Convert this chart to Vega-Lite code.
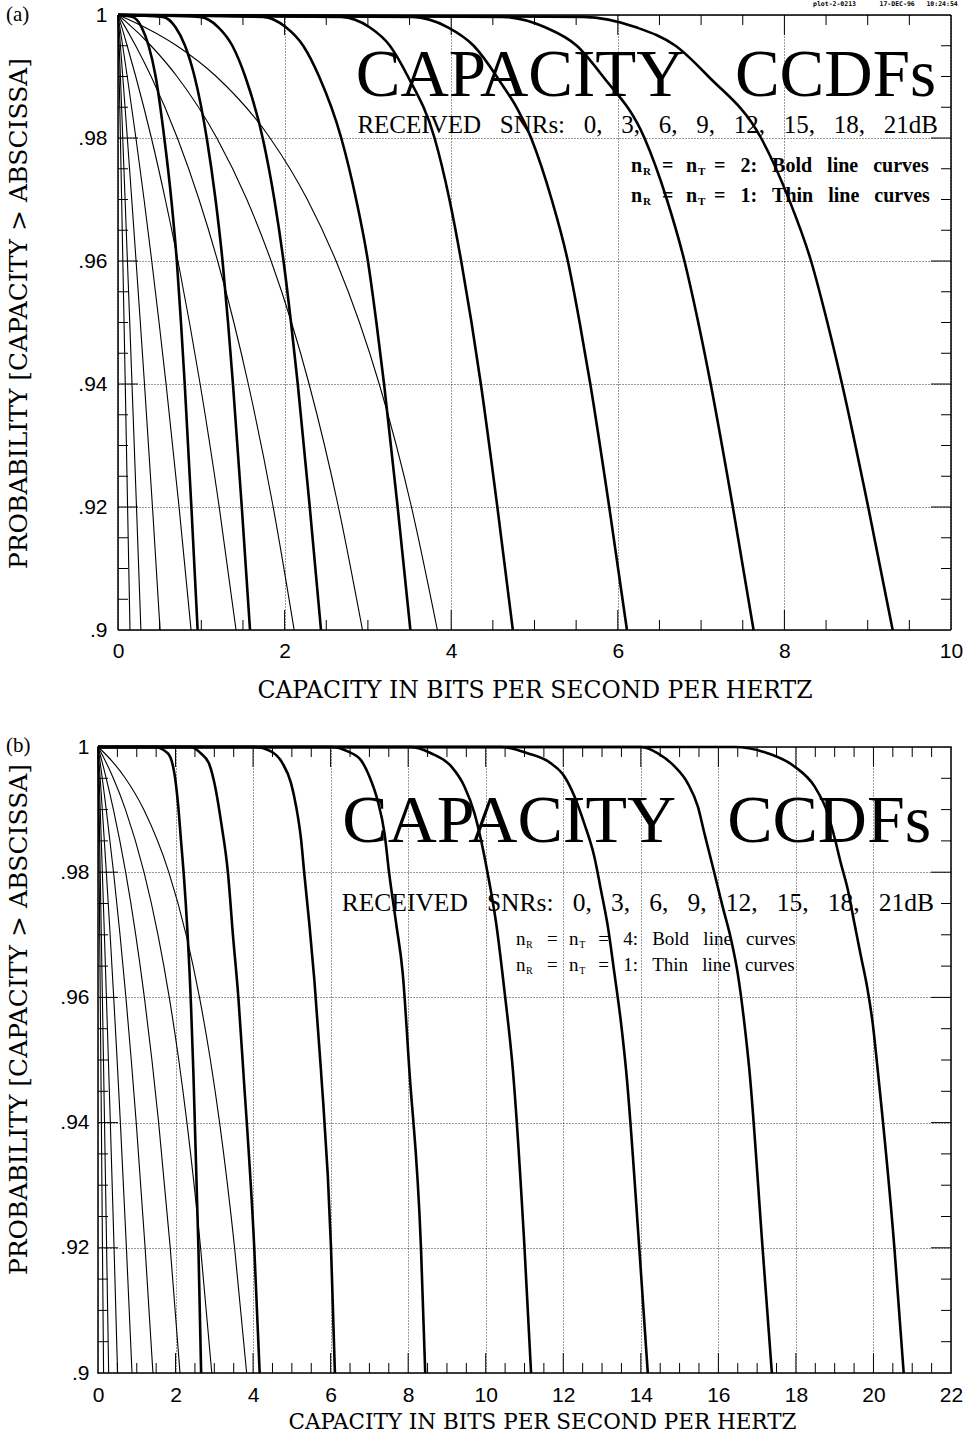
{
  "$schema": "https://vega.github.io/schema/vega-lite/v6.json",
  "background": "white",
  "padding": {"left": 5, "top": 1, "right": 0, "bottom": 0},
  "config": {
    "view": {"stroke": "black", "strokeWidth": 1.5},
    "axis": {
      "domain": false, "ticks": false, "tickSize": 0,
      "labelFont": "Liberation Sans", "labelFontSize": 21, "labelColor": "black",
      "labelFlush": false, "labelOverlap": false,
      "titleFont": "DejaVu Serif", "titleFontSize": 23.5, "titleFontWeight": "normal", "titleColor": "black",
      "gridColor": "#222", "gridDash": [1, 2], "gridWidth": 1, "gridOpacity": 0.9
    },
    "text": {"color": "black"}
  },
  "datasets": {
    "thin": [
      {"curve":"t0","c":0,"p":1},{"curve":"t0","c":0.014,"p":0.99},{"curve":"t0","c":0.029,"p":0.98},{"curve":"t0","c":0.058,"p":0.96},{"curve":"t0","c":0.087,"p":0.94},{"curve":"t0","c":0.115,"p":0.92},{"curve":"t0","c":0.144,"p":0.9},
      {"curve":"t3","c":0,"p":1},{"curve":"t3","c":0.003,"p":0.999},{"curve":"t3","c":0.014,"p":0.995},{"curve":"t3","c":0.029,"p":0.99},{"curve":"t3","c":0.057,"p":0.98},{"curve":"t3","c":0.085,"p":0.97},{"curve":"t3","c":0.113,"p":0.96},{"curve":"t3","c":0.141,"p":0.95},{"curve":"t3","c":0.168,"p":0.94},{"curve":"t3","c":0.222,"p":0.92},{"curve":"t3","c":0.275,"p":0.9},
      {"curve":"t6","c":0,"p":1},{"curve":"t6","c":0.006,"p":0.999},{"curve":"t6","c":0.029,"p":0.995},{"curve":"t6","c":0.057,"p":0.99},{"curve":"t6","c":0.112,"p":0.98},{"curve":"t6","c":0.165,"p":0.97},{"curve":"t6","c":0.217,"p":0.96},{"curve":"t6","c":0.268,"p":0.95},{"curve":"t6","c":0.318,"p":0.94},{"curve":"t6","c":0.414,"p":0.92},{"curve":"t6","c":0.505,"p":0.9},
      {"curve":"t9","c":0,"p":1},{"curve":"t9","c":0.011,"p":0.999},{"curve":"t9","c":0.056,"p":0.995},{"curve":"t9","c":0.111,"p":0.99},{"curve":"t9","c":0.215,"p":0.98},{"curve":"t9","c":0.313,"p":0.97},{"curve":"t9","c":0.405,"p":0.96},{"curve":"t9","c":0.493,"p":0.95},{"curve":"t9","c":0.577,"p":0.94},{"curve":"t9","c":0.733,"p":0.92},{"curve":"t9","c":0.877,"p":0.9},
      {"curve":"t12","c":0,"p":1},{"curve":"t12","c":0.023,"p":0.999},{"curve":"t12","c":0.11,"p":0.995},{"curve":"t12","c":0.213,"p":0.99},{"curve":"t12","c":0.401,"p":0.98},{"curve":"t12","c":0.568,"p":0.97},{"curve":"t12","c":0.72,"p":0.96},{"curve":"t12","c":0.858,"p":0.95},{"curve":"t12","c":0.986,"p":0.94},{"curve":"t12","c":1.215,"p":0.92},{"curve":"t12","c":1.417,"p":0.9},
      {"curve":"t15","c":0,"p":1},{"curve":"t15","c":0.045,"p":0.999},{"curve":"t15","c":0.212,"p":0.995},{"curve":"t15","c":0.398,"p":0.99},{"curve":"t15","c":0.713,"p":0.98},{"curve":"t15","c":0.973,"p":0.97},{"curve":"t15","c":1.196,"p":0.96},{"curve":"t15","c":1.391,"p":0.95},{"curve":"t15","c":1.564,"p":0.94},{"curve":"t15","c":1.863,"p":0.92},{"curve":"t15","c":2.115,"p":0.9},
      {"curve":"t18","c":0,"p":1},{"curve":"t18","c":0.088,"p":0.999},{"curve":"t18","c":0.396,"p":0.995},{"curve":"t18","c":0.709,"p":0.99},{"curve":"t18","c":1.186,"p":0.98},{"curve":"t18","c":1.547,"p":0.97},{"curve":"t18","c":1.838,"p":0.96},{"curve":"t18","c":2.083,"p":0.95},{"curve":"t18","c":2.294,"p":0.94},{"curve":"t18","c":2.646,"p":0.92},{"curve":"t18","c":2.935,"p":0.9},
      {"curve":"t21","c":0,"p":1},{"curve":"t21","c":0.171,"p":0.999},{"curve":"t21","c":0.706,"p":0.995},{"curve":"t21","c":1.18,"p":0.99},{"curve":"t21","c":1.825,"p":0.98},{"curve":"t21","c":2.273,"p":0.97},{"curve":"t21","c":2.618,"p":0.96},{"curve":"t21","c":2.899,"p":0.95},{"curve":"t21","c":3.136,"p":0.94},{"curve":"t21","c":3.523,"p":0.92},{"curve":"t21","c":3.834,"p":0.9}
    ],
    "boldA": [
      {"curve":"a0","c":0,"p":1},{"curve":"a0","c":0.168,"p":0.9997},{"curve":"a0","c":0.284,"p":0.998},{"curve":"a0","c":0.368,"p":0.995},{"curve":"a0","c":0.452,"p":0.99},{"curve":"a0","c":0.556,"p":0.98},{"curve":"a0","c":0.64,"p":0.97},{"curve":"a0","c":0.706,"p":0.96},{"curve":"a0","c":0.756,"p":0.95},{"curve":"a0","c":0.801,"p":0.94},{"curve":"a0","c":0.881,"p":0.92},{"curve":"a0","c":0.956,"p":0.9},
      {"curve":"a3","c":0,"p":1},{"curve":"a3","c":0.535,"p":0.9997},{"curve":"a3","c":0.691,"p":0.998},{"curve":"a3","c":0.805,"p":0.995},{"curve":"a3","c":0.919,"p":0.99},{"curve":"a3","c":1.065,"p":0.98},{"curve":"a3","c":1.171,"p":0.97},{"curve":"a3","c":1.255,"p":0.96},{"curve":"a3","c":1.321,"p":0.95},{"curve":"a3","c":1.38,"p":0.94},{"curve":"a3","c":1.486,"p":0.92},{"curve":"a3","c":1.585,"p":0.9},
      {"curve":"a6","c":0,"p":1},{"curve":"a6","c":0.981,"p":0.9997},{"curve":"a6","c":1.205,"p":0.998},{"curve":"a6","c":1.373,"p":0.995},{"curve":"a6","c":1.527,"p":0.99},{"curve":"a6","c":1.737,"p":0.98},{"curve":"a6","c":1.877,"p":0.97},{"curve":"a6","c":1.987,"p":0.96},{"curve":"a6","c":2.077,"p":0.95},{"curve":"a6","c":2.158,"p":0.94},{"curve":"a6","c":2.302,"p":0.92},{"curve":"a6","c":2.437,"p":0.9},
      {"curve":"a9","c":0,"p":1},{"curve":"a9","c":1.742,"p":0.9997},{"curve":"a9","c":2.016,"p":0.998},{"curve":"a9","c":2.223,"p":0.995},{"curve":"a9","c":2.414,"p":0.99},{"curve":"a9","c":2.68,"p":0.98},{"curve":"a9","c":2.859,"p":0.97},{"curve":"a9","c":3.0,"p":0.96},{"curve":"a9","c":3.102,"p":0.95},{"curve":"a9","c":3.194,"p":0.94},{"curve":"a9","c":3.357,"p":0.92},{"curve":"a9","c":3.51,"p":0.9},
      {"curve":"a12","c":0,"p":1},{"curve":"a12","c":2.681,"p":0.9997},{"curve":"a12","c":3.02,"p":0.998},{"curve":"a12","c":3.264,"p":0.995},{"curve":"a12","c":3.48,"p":0.99},{"curve":"a12","c":3.8,"p":0.98},{"curve":"a12","c":3.979,"p":0.97},{"curve":"a12","c":4.12,"p":0.96},{"curve":"a12","c":4.244,"p":0.95},{"curve":"a12","c":4.356,"p":0.94},{"curve":"a12","c":4.554,"p":0.92},{"curve":"a12","c":4.74,"p":0.9},
      {"curve":"a15","c":0,"p":1},{"curve":"a15","c":3.534,"p":0.9997},{"curve":"a15","c":3.96,"p":0.998},{"curve":"a15","c":4.27,"p":0.995},{"curve":"a15","c":4.546,"p":0.99},{"curve":"a15","c":4.96,"p":0.98},{"curve":"a15","c":5.206,"p":0.97},{"curve":"a15","c":5.4,"p":0.96},{"curve":"a15","c":5.542,"p":0.95},{"curve":"a15","c":5.67,"p":0.94},{"curve":"a15","c":5.897,"p":0.92},{"curve":"a15","c":6.11,"p":0.9},
      {"curve":"a18","c":0,"p":1},{"curve":"a18","c":4.617,"p":0.9997},{"curve":"a18","c":5.128,"p":0.998},{"curve":"a18","c":5.508,"p":0.995},{"curve":"a18","c":5.822,"p":0.99},{"curve":"a18","c":6.32,"p":0.98},{"curve":"a18","c":6.589,"p":0.97},{"curve":"a18","c":6.8,"p":0.96},{"curve":"a18","c":6.966,"p":0.95},{"curve":"a18","c":7.115,"p":0.94},{"curve":"a18","c":7.381,"p":0.92},{"curve":"a18","c":7.63,"p":0.9},
      {"curve":"a21","c":0,"p":1},{"curve":"a21","c":5.587,"p":0.9997},{"curve":"a21","c":6.219,"p":0.998},{"curve":"a21","c":6.693,"p":0.995},{"curve":"a21","c":7.088,"p":0.99},{"curve":"a21","c":7.72,"p":0.98},{"curve":"a21","c":8.056,"p":0.97},{"curve":"a21","c":8.32,"p":0.96},{"curve":"a21","c":8.516,"p":0.95},{"curve":"a21","c":8.692,"p":0.94},{"curve":"a21","c":9.006,"p":0.92},{"curve":"a21","c":9.3,"p":0.9}
    ],
    "boldB": [
      {"curve":"b0","c":0,"p":1},{"curve":"b0","c":1.45,"p":1},{"curve":"b0","c":1.8,"p":0.999},{"curve":"b0","c":1.97,"p":0.9958},{"curve":"b0","c":2.07,"p":0.9905},{"curve":"b0","c":2.14,"p":0.9851},{"curve":"b0","c":2.21,"p":0.9798},{"curve":"b0","c":2.31,"p":0.9702},{"curve":"b0","c":2.4,"p":0.9585},{"curve":"b0","c":2.46,"p":0.948},{"curve":"b0","c":2.59,"p":0.92},{"curve":"b0","c":2.66,"p":0.9},
      {"curve":"b3","c":0,"p":1},{"curve":"b3","c":2.4,"p":1},{"curve":"b3","c":2.65,"p":0.999},{"curve":"b3","c":2.86,"p":0.9974},{"curve":"b3","c":3.04,"p":0.9931},{"curve":"b3","c":3.18,"p":0.9878},{"curve":"b3","c":3.35,"p":0.98},{"curve":"b3","c":3.48,"p":0.97},{"curve":"b3","c":3.62,"p":0.96},{"curve":"b3","c":3.75,"p":0.948},{"curve":"b3","c":4.03,"p":0.92},{"curve":"b3","c":4.17,"p":0.9},
      {"curve":"b6","c":0,"p":1},{"curve":"b6","c":4.03,"p":1},{"curve":"b6","c":4.46,"p":0.9993},{"curve":"b6","c":4.76,"p":0.9974},{"curve":"b6","c":4.98,"p":0.9942},{"curve":"b6","c":5.11,"p":0.9905},{"curve":"b6","c":5.24,"p":0.9851},{"curve":"b6","c":5.32,"p":0.9798},{"curve":"b6","c":5.45,"p":0.9718},{"curve":"b6","c":5.58,"p":0.9628},{"curve":"b6","c":5.75,"p":0.9484},{"curve":"b6","c":6.01,"p":0.92},{"curve":"b6","c":6.11,"p":0.9},
      {"curve":"b9","c":0,"p":1},{"curve":"b9","c":6.01,"p":1},{"curve":"b9","c":6.44,"p":0.9993},{"curve":"b9","c":6.78,"p":0.9979},{"curve":"b9","c":7.0,"p":0.9953},{"curve":"b9","c":7.21,"p":0.9915},{"curve":"b9","c":7.39,"p":0.9862},{"curve":"b9","c":7.51,"p":0.9798},{"curve":"b9","c":7.69,"p":0.9718},{"curve":"b9","c":7.86,"p":0.9638},{"curve":"b9","c":8.03,"p":0.9484},{"curve":"b9","c":8.33,"p":0.92},{"curve":"b9","c":8.44,"p":0.9},
      {"curve":"b12","c":0,"p":1},{"curve":"b12","c":8.07,"p":1},{"curve":"b12","c":8.59,"p":0.999},{"curve":"b12","c":9.11,"p":0.9969},{"curve":"b12","c":9.45,"p":0.9937},{"curve":"b12","c":9.71,"p":0.9894},{"curve":"b12","c":9.88,"p":0.9851},{"curve":"b12","c":10.05,"p":0.9798},{"curve":"b12","c":10.27,"p":0.9718},{"curve":"b12","c":10.48,"p":0.9612},{"curve":"b12","c":10.7,"p":0.9484},{"curve":"b12","c":11.0,"p":0.92},{"curve":"b12","c":11.17,"p":0.9},
      {"curve":"b15","c":0,"p":1},{"curve":"b15","c":10.4,"p":1},{"curve":"b15","c":11.08,"p":0.999},{"curve":"b15","c":11.68,"p":0.9974},{"curve":"b15","c":12.03,"p":0.9953},{"curve":"b15","c":12.29,"p":0.9921},{"curve":"b15","c":12.54,"p":0.9878},{"curve":"b15","c":12.8,"p":0.9825},{"curve":"b15","c":12.97,"p":0.9772},{"curve":"b15","c":13.15,"p":0.9713},{"curve":"b15","c":13.32,"p":0.9638},{"curve":"b15","c":13.49,"p":0.9559},{"curve":"b15","c":13.62,"p":0.9484},{"curve":"b15","c":13.96,"p":0.92},{"curve":"b15","c":14.18,"p":0.9},
      {"curve":"b18","c":0,"p":1},{"curve":"b18","c":14.01,"p":1},{"curve":"b18","c":14.44,"p":0.999},{"curve":"b18","c":14.87,"p":0.9969},{"curve":"b18","c":15.21,"p":0.9942},{"curve":"b18","c":15.47,"p":0.9905},{"curve":"b18","c":15.64,"p":0.9862},{"curve":"b18","c":15.9,"p":0.9798},{"curve":"b18","c":16.11,"p":0.9745},{"curve":"b18","c":16.33,"p":0.9692},{"curve":"b18","c":16.5,"p":0.9638},{"curve":"b18","c":16.67,"p":0.9559},{"curve":"b18","c":16.8,"p":0.9484},{"curve":"b18","c":17.14,"p":0.92},{"curve":"b18","c":17.38,"p":0.9},
      {"curve":"b21","c":0,"p":1},{"curve":"b21","c":16.41,"p":1},{"curve":"b21","c":17.27,"p":0.999},{"curve":"b21","c":17.96,"p":0.9969},{"curve":"b21","c":18.48,"p":0.9937},{"curve":"b21","c":18.82,"p":0.9894},{"curve":"b21","c":18.99,"p":0.9857},{"curve":"b21","c":19.16,"p":0.9814},{"curve":"b21","c":19.34,"p":0.9772},{"curve":"b21","c":19.51,"p":0.9718},{"curve":"b21","c":19.68,"p":0.9665},{"curve":"b21","c":19.85,"p":0.9612},{"curve":"b21","c":19.98,"p":0.9559},{"curve":"b21","c":20.11,"p":0.9484},{"curve":"b21","c":20.54,"p":0.92},{"curve":"b21","c":20.78,"p":0.9}
    ],
    "xminA": [{"v":0.5},{"v":1},{"v":1.5},{"v":2.5},{"v":3},{"v":3.5},{"v":4.5},{"v":5},{"v":5.5},{"v":6.5},{"v":7},{"v":7.5},{"v":8.5},{"v":9},{"v":9.5}],
    "xmajA": [{"v":2},{"v":4},{"v":6},{"v":8}],
    "xminB": [{"v":0.5},{"v":1},{"v":1.5},{"v":2.5},{"v":3},{"v":3.5},{"v":4.5},{"v":5},{"v":5.5},{"v":6.5},{"v":7},{"v":7.5},{"v":8.5},{"v":9},{"v":9.5},{"v":10.5},{"v":11},{"v":11.5},{"v":12.5},{"v":13},{"v":13.5},{"v":14.5},{"v":15},{"v":15.5},{"v":16.5},{"v":17},{"v":17.5},{"v":18.5},{"v":19},{"v":19.5},{"v":20.5},{"v":21},{"v":21.5}],
    "xmajB": [{"v":2},{"v":4},{"v":6},{"v":8},{"v":10},{"v":12},{"v":14},{"v":16},{"v":18},{"v":20}],
    "ymin": [{"v":0.905},{"v":0.91},{"v":0.915},{"v":0.925},{"v":0.93},{"v":0.935},{"v":0.945},{"v":0.95},{"v":0.955},{"v":0.965},{"v":0.97},{"v":0.975},{"v":0.985},{"v":0.99},{"v":0.995}],
    "ymaj": [{"v":0.92},{"v":0.94},{"v":0.96},{"v":0.98}]
  },
  "concat": [
    {
      "width": 853, "height": 615,
      "view": {"stroke": null},
      "layer": [
        {"data": {"name": "thin"}, "mark": {"type": "line", "interpolate": "monotone", "color": "black", "strokeWidth": 1.1},
         "encoding": {
           "x": {"field": "c", "type": "quantitative", "scale": {"domain": [0, 10], "range": [20, 853], "nice": false, "zero": false},
                 "axis": {"values": [0, 2, 4, 6, 8, 10], "format": "d", "grid": true, "title": "CAPACITY IN BITS PER SECOND PER HERTZ", "labelPadding": 10, "titlePadding": 17}},
           "y": {"field": "p", "type": "quantitative", "scale": {"domain": [0.9, 1], "nice": false, "zero": false},
                 "axis": {"values": [0.9, 0.92, 0.94, 0.96, 0.98, 1], "grid": true, "offset": -20, "labelExpr": "datum.value == 1 ? '1' : replace(format(datum.value, '.2~f'), '0.', '.')", "title": "PROBABILITY [CAPACITY > ABSCISSA]", "titleFontSize": 25, "titleY": 298, "labelPadding": 11, "titlePadding": 46}},
           "detail": {"field": "curve"}}},
        {"data": {"name": "boldA"}, "mark": {"type": "line", "interpolate": "monotone", "color": "black", "strokeWidth": 2.6},
         "encoding": {"x": {"field": "c", "type": "quantitative"}, "y": {"field": "p", "type": "quantitative"}, "detail": {"field": "curve"}}},
        {"data": {"values": [{"c": 0}, {"c": 10}]}, "mark": {"type": "rule", "color": "black", "strokeWidth": 1.5},
         "encoding": {"x": {"field": "c", "type": "quantitative"}, "y": {"datum": 0.9}, "y2": {"datum": 1}}},
        {"data": {"values": [{"p": 0.9}, {"p": 1}]}, "mark": {"type": "rule", "color": "black", "strokeWidth": 1.5},
         "encoding": {"y": {"field": "p", "type": "quantitative"}, "x": {"datum": 0}, "x2": {"datum": 10}}},
        {"data": {"name": "xminA"}, "mark": {"type": "rule", "color": "black", "y2Offset": -10},
         "encoding": {"x": {"field": "v", "type": "quantitative"}, "y": {"datum": 0.9}, "y2": {"datum": 0.9}}},
        {"data": {"name": "xminA"}, "mark": {"type": "rule", "color": "black", "y2Offset": 10},
         "encoding": {"x": {"field": "v", "type": "quantitative"}, "y": {"datum": 1}, "y2": {"datum": 1}}},
        {"data": {"name": "xmajA"}, "mark": {"type": "rule", "color": "black", "y2Offset": -20},
         "encoding": {"x": {"field": "v", "type": "quantitative"}, "y": {"datum": 0.9}, "y2": {"datum": 0.9}}},
        {"data": {"name": "xmajA"}, "mark": {"type": "rule", "color": "black", "y2Offset": 20},
         "encoding": {"x": {"field": "v", "type": "quantitative"}, "y": {"datum": 1}, "y2": {"datum": 1}}},
        {"data": {"name": "ymin"}, "mark": {"type": "rule", "color": "black", "x2Offset": 10},
         "encoding": {"y": {"field": "v", "type": "quantitative"}, "x": {"datum": 0}, "x2": {"datum": 0}}},
        {"data": {"name": "ymin"}, "mark": {"type": "rule", "color": "black", "x2Offset": -10},
         "encoding": {"y": {"field": "v", "type": "quantitative"}, "x": {"datum": 10}, "x2": {"datum": 10}}},
        {"data": {"name": "ymaj"}, "mark": {"type": "rule", "color": "black", "x2Offset": 20},
         "encoding": {"y": {"field": "v", "type": "quantitative"}, "x": {"datum": 0}, "x2": {"datum": 0}}},
        {"data": {"name": "ymaj"}, "mark": {"type": "rule", "color": "black", "x2Offset": -20},
         "encoding": {"y": {"field": "v", "type": "quantitative"}, "x": {"datum": 10}, "x2": {"datum": 10}}},
        {"data": {"values": [{"c": 9.82, "p": 0.98683, "t": "CAPACITY\u00a0\u00a0\u00a0CCDFs"}]},
         "mark": {"type": "text", "align": "right", "baseline": "alphabetic", "font": "Liberation Serif", "fontSize": 67},
         "encoding": {"x": {"field": "c", "type": "quantitative"}, "y": {"field": "p", "type": "quantitative"}, "text": {"field": "t"}}},
        {"data": {"values": [{"c": 9.844, "p": 0.98081, "t": "RECEIVED\u00a0\u00a0\u00a0SNRs:\u00a0\u00a0\u00a00,\u00a0\u00a0\u00a03,\u00a0\u00a0\u00a06,\u00a0\u00a0\u00a09,\u00a0\u00a0\u00a012,\u00a0\u00a0\u00a015,\u00a0\u00a0\u00a018,\u00a0\u00a0\u00a021dB"}]},
         "mark": {"type": "text", "align": "right", "baseline": "alphabetic", "font": "Liberation Serif", "fontSize": 25},
         "encoding": {"x": {"field": "c", "type": "quantitative"}, "y": {"field": "p", "type": "quantitative"}, "text": {"field": "t"}}},
        {"data": {"values": [
           {"c": 6.158, "p": 0.97447, "t": "n"}, {"c": 6.531, "p": 0.97447, "t": "="}, {"c": 6.819, "p": 0.97447, "t": "n"},
           {"c": 7.155, "p": 0.97447, "t": "=\u00a0\u00a0\u00a02:\u00a0\u00a0\u00a0Bold\u00a0\u00a0\u00a0line\u00a0\u00a0\u00a0curves"},
           {"c": 6.158, "p": 0.96954, "t": "n"}, {"c": 6.531, "p": 0.96954, "t": "="}, {"c": 6.819, "p": 0.96954, "t": "n"},
           {"c": 7.155, "p": 0.96954, "t": "=\u00a0\u00a0\u00a01:\u00a0\u00a0\u00a0Thin\u00a0\u00a0\u00a0line\u00a0\u00a0\u00a0curves"}]},
         "mark": {"type": "text", "align": "left", "baseline": "alphabetic", "font": "Liberation Serif", "fontSize": 20, "fontWeight": "bold"},
         "encoding": {"x": {"field": "c", "type": "quantitative"}, "y": {"field": "p", "type": "quantitative"}, "text": {"field": "t"}}},
        {"data": {"values": [
           {"c": 6.303, "p": 0.97398, "t": "R"}, {"c": 6.963, "p": 0.97398, "t": "T"},
           {"c": 6.303, "p": 0.96905, "t": "R"}, {"c": 6.963, "p": 0.96905, "t": "T"}]},
         "mark": {"type": "text", "align": "left", "baseline": "alphabetic", "font": "Liberation Serif", "fontSize": 11, "fontWeight": "bold"},
         "encoding": {"x": {"field": "c", "type": "quantitative"}, "y": {"field": "p", "type": "quantitative"}, "text": {"field": "t"}}},
        {"data": {"values": [{"c": -1.345, "p": 0.99902, "t": "(a)"}]},
         "mark": {"type": "text", "align": "left", "baseline": "alphabetic", "font": "Liberation Serif", "fontSize": 21},
         "encoding": {"x": {"field": "c", "type": "quantitative"}, "y": {"field": "p", "type": "quantitative"}, "text": {"field": "t"}}},
        {"data": {"values": [{"c": 8.343, "p": 1.00146, "t": "plot-2-0213\u00a0\u00a0\u00a0\u00a0\u00a0\u00a017-DEC-96\u00a0\u00a0\u00a010:24:54"}]},
         "mark": {"type": "text", "align": "left", "baseline": "alphabetic", "font": "DejaVu Sans Mono", "fontSize": 6.5, "fontWeight": "bold"},
         "encoding": {"x": {"field": "c", "type": "quantitative"}, "y": {"field": "p", "type": "quantitative"}, "text": {"field": "t"}}}
      ]
    },
    {
      "width": 853, "height": 626,
      "layer": [
        {"data": {"name": "thin"}, "mark": {"type": "line", "interpolate": "monotone", "color": "black", "strokeWidth": 1.1},
         "encoding": {
           "x": {"field": "c", "type": "quantitative", "scale": {"domain": [0, 22], "nice": false, "zero": false},
                 "axis": {"values": [0, 2, 4, 6, 8, 10, 12, 14, 16, 18, 20, 22], "format": "d", "grid": true, "title": "CAPACITY IN BITS PER SECOND PER HERTZ", "titleFontSize": 21.5, "titleX": 444, "labelPadding": 11, "titlePadding": 6}},
           "y": {"field": "p", "type": "quantitative", "scale": {"domain": [0.9, 1], "nice": false, "zero": false},
                 "axis": {"values": [0.9, 0.92, 0.94, 0.96, 0.98, 1], "grid": true, "labelExpr": "datum.value == 1 ? '1' : replace(format(datum.value, '.2~f'), '0.', '.')", "title": "PROBABILITY [CAPACITY > ABSCISSA]", "titleFontSize": 25, "titleY": 272, "labelPadding": 9, "titlePadding": 28}},
           "detail": {"field": "curve"}}},
        {"data": {"name": "boldB"}, "mark": {"type": "line", "interpolate": "monotone", "color": "black", "strokeWidth": 2.6},
         "encoding": {"x": {"field": "c", "type": "quantitative"}, "y": {"field": "p", "type": "quantitative"}, "detail": {"field": "curve"}}},
        {"data": {"name": "xminB"}, "mark": {"type": "rule", "color": "black", "y2Offset": -10},
         "encoding": {"x": {"field": "v", "type": "quantitative"}, "y": {"datum": 0.9}, "y2": {"datum": 0.9}}},
        {"data": {"name": "xminB"}, "mark": {"type": "rule", "color": "black", "y2Offset": 10},
         "encoding": {"x": {"field": "v", "type": "quantitative"}, "y": {"datum": 1}, "y2": {"datum": 1}}},
        {"data": {"name": "xmajB"}, "mark": {"type": "rule", "color": "black", "y2Offset": -20},
         "encoding": {"x": {"field": "v", "type": "quantitative"}, "y": {"datum": 0.9}, "y2": {"datum": 0.9}}},
        {"data": {"name": "xmajB"}, "mark": {"type": "rule", "color": "black", "y2Offset": 20},
         "encoding": {"x": {"field": "v", "type": "quantitative"}, "y": {"datum": 1}, "y2": {"datum": 1}}},
        {"data": {"name": "ymin"}, "mark": {"type": "rule", "color": "black", "x2Offset": 10},
         "encoding": {"y": {"field": "v", "type": "quantitative"}, "x": {"datum": 0}, "x2": {"datum": 0}}},
        {"data": {"name": "ymin"}, "mark": {"type": "rule", "color": "black", "x2Offset": -10},
         "encoding": {"y": {"field": "v", "type": "quantitative"}, "x": {"datum": 22}, "x2": {"datum": 22}}},
        {"data": {"name": "ymaj"}, "mark": {"type": "rule", "color": "black", "x2Offset": 20},
         "encoding": {"y": {"field": "v", "type": "quantitative"}, "x": {"datum": 0}, "x2": {"datum": 0}}},
        {"data": {"name": "ymaj"}, "mark": {"type": "rule", "color": "black", "x2Offset": -20},
         "encoding": {"y": {"field": "v", "type": "quantitative"}, "x": {"datum": 22}, "x2": {"datum": 22}}},
        {"data": {"values": [{"c": 21.49, "p": 0.98482, "t": "CAPACITY\u00a0\u00a0\u00a0CCDFs"}]},
         "mark": {"type": "text", "align": "right", "baseline": "alphabetic", "font": "Liberation Serif", "fontSize": 68},
         "encoding": {"x": {"field": "c", "type": "quantitative"}, "y": {"field": "p", "type": "quantitative"}, "text": {"field": "t"}}},
        {"data": {"values": [{"c": 21.56, "p": 0.9738, "t": "RECEIVED\u00a0\u00a0\u00a0SNRs:\u00a0\u00a0\u00a00,\u00a0\u00a0\u00a03,\u00a0\u00a0\u00a06,\u00a0\u00a0\u00a09,\u00a0\u00a0\u00a012,\u00a0\u00a0\u00a015,\u00a0\u00a0\u00a018,\u00a0\u00a0\u00a021dB"}]},
         "mark": {"type": "text", "align": "right", "baseline": "alphabetic", "font": "Liberation Serif", "fontSize": 25.5},
         "encoding": {"x": {"field": "c", "type": "quantitative"}, "y": {"field": "p", "type": "quantitative"}, "text": {"field": "t"}}},
        {"data": {"values": [
           {"c": 10.78, "p": 0.96837, "t": "n"}, {"c": 11.58, "p": 0.96837, "t": "="}, {"c": 12.15, "p": 0.96837, "t": "n"},
           {"c": 12.9, "p": 0.96837, "t": "=\u00a0\u00a0\u00a04:\u00a0\u00a0\u00a0Bold\u00a0\u00a0\u00a0line\u00a0\u00a0\u00a0curves"},
           {"c": 10.78, "p": 0.96422, "t": "n"}, {"c": 11.58, "p": 0.96422, "t": "="}, {"c": 12.15, "p": 0.96422, "t": "n"},
           {"c": 12.9, "p": 0.96422, "t": "=\u00a0\u00a0\u00a01:\u00a0\u00a0\u00a0Thin\u00a0\u00a0\u00a0line\u00a0\u00a0\u00a0curves"}]},
         "mark": {"type": "text", "align": "left", "baseline": "alphabetic", "font": "Liberation Serif", "fontSize": 19},
         "encoding": {"x": {"field": "c", "type": "quantitative"}, "y": {"field": "p", "type": "quantitative"}, "text": {"field": "t"}}},
        {"data": {"values": [
           {"c": 11.04, "p": 0.96789, "t": "R"}, {"c": 12.41, "p": 0.96789, "t": "T"},
           {"c": 11.04, "p": 0.96374, "t": "R"}, {"c": 12.41, "p": 0.96374, "t": "T"}]},
         "mark": {"type": "text", "align": "left", "baseline": "alphabetic", "font": "Liberation Serif", "fontSize": 10},
         "encoding": {"x": {"field": "c", "type": "quantitative"}, "y": {"field": "p", "type": "quantitative"}, "text": {"field": "t"}}},
        {"data": {"values": [{"c": -2.373, "p": 0.9992, "t": "(b)"}]},
         "mark": {"type": "text", "align": "left", "baseline": "alphabetic", "font": "Liberation Serif", "fontSize": 21},
         "encoding": {"x": {"field": "c", "type": "quantitative"}, "y": {"field": "p", "type": "quantitative"}, "text": {"field": "t"}}}
      ]
    }
  ],
  "columns": 1,
  "spacing": 32
}
